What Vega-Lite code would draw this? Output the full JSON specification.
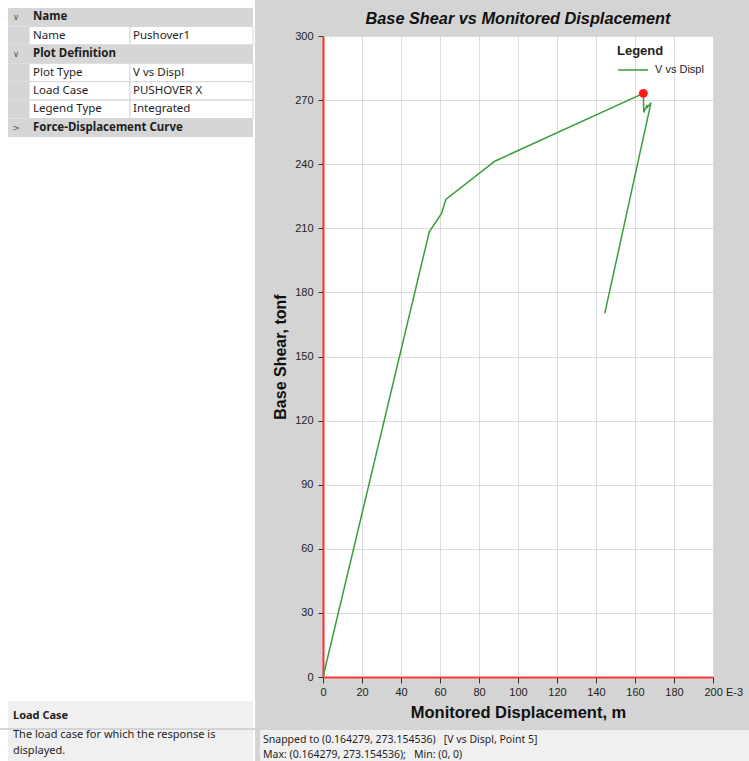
{
  "$schema": "https://vega.github.io/schema/vega-lite/v6.json",
  "background": "#d4d4d4",
  "padding": 0,
  "spacing": 0,
  "bounds": "full",
  "resolve": {"scale": {"color": "independent"}, "legend": {"color": "independent"}},
  "config": {"view": {"stroke": null}, "font": "Liberation Sans"},
  "datasets": {
    "grid": [
      {"row": 1, "kind": "header", "label": "Name", "open": true},
      {"row": 2, "kind": "item", "label": "Name", "value": "Pushover1"},
      {"row": 3, "kind": "header", "label": "Plot Definition", "open": true},
      {"row": 4, "kind": "item", "label": "Plot Type", "value": "V vs Displ"},
      {"row": 5, "kind": "item", "label": "Load Case", "value": "PUSHOVER X"},
      {"row": 6, "kind": "item", "label": "Legend Type", "value": "Integrated"},
      {"row": 7, "kind": "header", "label": "Force-Displacement Curve", "open": false}
    ],
    "desc": [
      {"line": 1, "text": "Load Case"},
      {"line": 2, "text": "The load case for which the response is"},
      {"line": 3, "text": "displayed."}
    ],
    "status": [
      {"line": 1, "text": "Snapped to (0.164279, 273.154536)\u00a0\u00a0\u00a0[V vs Displ, Point 5]"},
      {"line": 2, "text": "Max: (0.164279, 273.154536);\u00a0\u00a0\u00a0Min: (0, 0)"}
    ],
    "pushover": [
      {"step": 0, "series": "V vs Displ", "displ": 0, "shear": 0},
      {"step": 1, "series": "V vs Displ", "displ": 54.5, "shear": 208.4},
      {"step": 2, "series": "V vs Displ", "displ": 60.8, "shear": 217.0},
      {"step": 3, "series": "V vs Displ", "displ": 63.0, "shear": 223.5},
      {"step": 4, "series": "V vs Displ", "displ": 88.1, "shear": 241.4},
      {"step": 5, "series": "V vs Displ", "displ": 164.279, "shear": 273.154536},
      {"step": 6, "series": "V vs Displ", "displ": 164.5, "shear": 264.2},
      {"step": 7, "series": "V vs Displ", "displ": 166.2, "shear": 267.7},
      {"step": 8, "series": "V vs Displ", "displ": 166.3, "shear": 266.6},
      {"step": 9, "series": "V vs Displ", "displ": 168.2, "shear": 268.8},
      {"step": 10, "series": "V vs Displ", "displ": 144.5, "shear": 170.2}
    ]
  },
  "vconcat": [
    {
      "spacing": 68,
      "bounds": "flush",
      "resolve": {"scale": {"color": "independent"}, "legend": {"color": "independent"}},
      "hconcat": [
        {
          "width": 255,
          "height": 728,
          "view": {"fill": "white", "stroke": null},
          "resolve": {"scale": {"y": "independent"}},
          "layer": [
            {
              "data": {"name": "grid"},
              "encoding": {
                "y": {"field": "row", "type": "ordinal", "axis": null,
                  "scale": {"type": "band", "domain": [1, 2, 3, 4, 5, 6, 7], "range": [8, 137], "paddingInner": 0, "paddingOuter": 0}}
              },
              "layer": [
                {
                  "mark": {"type": "rect", "color": "#d6d6d6"},
                  "encoding": {
                    "x": {"datum": -1, "type": "quantitative", "axis": null, "scale": {"domain": [-1, 0, 1, 2], "range": [8, 29, 130, 253], "nice": false, "zero": false}},
                    "x2": {"datum": 2}
                  }
                },
                {
                  "transform": [{"filter": "datum.kind == 'item'"}],
                  "mark": {"type": "rect", "fill": "white", "stroke": "#d6d6d6", "strokeWidth": 1},
                  "encoding": {"x": {"datum": 0, "type": "quantitative"}, "x2": {"datum": 1}}
                },
                {
                  "transform": [{"filter": "datum.kind == 'item'"}],
                  "mark": {"type": "rect", "fill": "white", "stroke": "#d6d6d6", "strokeWidth": 1},
                  "encoding": {"x": {"datum": 1, "type": "quantitative"}, "x2": {"datum": 2}}
                },
                {
                  "transform": [{"filter": "datum.kind == 'item'"}],
                  "mark": {"type": "text", "align": "left", "dx": 4, "font": "Noto Sans", "fontSize": 11.5, "color": "#1e1e1e"},
                  "encoding": {"x": {"datum": 0, "type": "quantitative"}, "text": {"field": "label"}}
                },
                {
                  "transform": [{"filter": "datum.kind == 'item'"}],
                  "mark": {"type": "text", "align": "left", "dx": 3, "font": "Noto Sans", "fontSize": 11.5, "color": "#1e1e1e"},
                  "encoding": {"x": {"datum": 1, "type": "quantitative"}, "text": {"field": "value"}}
                },
                {
                  "transform": [{"filter": "datum.kind == 'header'"}],
                  "mark": {"type": "text", "align": "left", "dx": 4, "font": "Noto Sans", "fontSize": 11.5, "fontWeight": "bold", "color": "#1e1e1e"},
                  "encoding": {"x": {"datum": 0, "type": "quantitative"}, "text": {"field": "label"}}
                },
                {
                  "transform": [{"filter": "datum.kind == 'header'"}],
                  "mark": {"type": "text", "align": "center", "dx": 8, "font": "DejaVu Sans", "fontSize": 9, "color": "#555555"},
                  "encoding": {
                    "x": {"datum": -1, "type": "quantitative"},
                    "text": {"condition": {"test": "datum.open", "value": "∨"}, "value": ">"}
                  }
                }
              ]
            },
            {
              "data": {"name": "desc"},
              "transform": [{"filter": "datum.line == 1"}],
              "encoding": {
                "y": {"field": "line", "type": "ordinal", "axis": null,
                  "scale": {"type": "band", "domain": [1], "range": [701, 728], "paddingInner": 0, "paddingOuter": 0}}
              },
              "layer": [
                {
                  "mark": {"type": "rect", "color": "#f0f0f0"},
                  "encoding": {
                    "x": {"datum": -1, "type": "quantitative", "axis": null, "scale": {"domain": [-1, 0, 1, 2], "range": [8, 29, 130, 253], "nice": false, "zero": false}},
                    "x2": {"datum": 2}
                  }
                },
                {
                  "mark": {"type": "text", "align": "left", "dx": 5, "dy": 1, "font": "Noto Sans", "fontSize": 11, "fontWeight": "bold", "color": "#1e1e1e"},
                  "encoding": {"x": {"datum": -1, "type": "quantitative"}, "text": {"field": "text"}}
                }
              ]
            }
          ]
        },
        {
          "spacing": 0,
          "bounds": "flush",
          "resolve": {"scale": {"color": "independent"}, "legend": {"color": "independent"}},
          "vconcat": [
            {
              "width": 390,
              "height": 36,
              "data": {"values": [{"title": "Base Shear vs Monitored Displacement"}]},
              "mark": {"type": "text", "font": "Liberation Sans", "fontSize": 16.3, "fontWeight": "bold", "fontStyle": "italic", "color": "#111111", "dy": 1},
              "encoding": {"text": {"field": "title"}}
            },
            {
              "width": 390,
              "height": 641,
              "view": {"fill": "white", "stroke": null},
              "data": {"name": "pushover"},
              "encoding": {
                "x": {
                  "field": "displ", "type": "quantitative",
                  "scale": {"domain": [0, 200], "nice": false},
                  "axis": {
                    "values": [0, 20, 40, 60, 80, 100, 120, 140, 160, 180, 200],
                    "grid": true,
                    "gridColor": {"condition": {"test": "datum.value == 0", "value": "#ff3030"}, "value": "#dcdcdc"},
                    "gridWidth": {"condition": {"test": "datum.value == 0", "value": 1.6}, "value": 1},
                    "domainColor": "#ff3030", "domainWidth": 1.6,
                    "tickColor": "#333333", "tickSize": 6,
                    "labelFontSize": 11, "labelColor": "#222222", "labelPadding": 3,
                    "labelFlush": false, "labelOverlap": false,
                    "labelExpr": "datum.value == 200 ? '200 E-3' : datum.label",
                    "labelAlign": {"condition": {"test": "datum.value == 200", "value": "left"}, "value": "center"},
                    "labelOffset": {"condition": {"test": "datum.value == 200", "value": -9}, "value": 0},
                    "title": "Monitored Displacement, m",
                    "titleFontSize": 16.5, "titleFontWeight": "bold", "titleColor": "#111111", "titlePadding": 7
                  }
                },
                "y": {
                  "field": "shear", "type": "quantitative",
                  "scale": {"domain": [0, 300], "nice": false},
                  "axis": {
                    "values": [0, 30, 60, 90, 120, 150, 180, 210, 240, 270, 300],
                    "grid": true,
                    "gridColor": {"condition": {"test": "datum.value == 0", "value": "#ff3030"}, "value": "#dcdcdc"},
                    "gridWidth": {"condition": {"test": "datum.value == 0", "value": 1.6}, "value": 1},
                    "domainColor": "#ff3030", "domainWidth": 1.6,
                    "tickColor": "#333333", "tickSize": 5,
                    "labelFontSize": 11, "labelColor": "#222222", "labelPadding": 5,
                    "labelFlush": false,
                    "title": "Base Shear, tonf",
                    "titleFontSize": 16, "titleFontWeight": "bold", "titleColor": "#111111", "titlePadding": 6
                  }
                }
              },
              "layer": [
                {
                  "mark": {"type": "line", "strokeWidth": 1.5},
                  "encoding": {
                    "order": {"field": "step", "type": "quantitative"},
                    "color": {
                      "field": "series", "type": "nominal",
                      "scale": {"range": ["#3a9d3a"]},
                      "legend": {
                        "title": "Legend", "orient": "top-right", "offset": 9, "padding": 0,
                        "titleFontSize": 13, "titleFontWeight": "bold", "titleColor": "#222222", "titlePadding": -4,
                        "labelFontSize": 11, "labelColor": "#222222", "labelOffset": 6,
                        "symbolType": "stroke", "symbolSize": 900, "symbolStrokeWidth": 1.5
                      }
                    }
                  }
                },
                {
                  "transform": [{"filter": "datum.step == 5"}],
                  "mark": {"type": "point", "filled": true, "color": "#ff1a1a", "size": 80, "opacity": 1}
                }
              ]
            }
          ]
        }
      ]
    },
    {
      "spacing": 5,
      "bounds": "flush",
      "hconcat": [
        {
          "width": 255,
          "height": 33,
          "view": {"fill": "white", "stroke": null},
          "data": {"name": "desc"},
          "transform": [{"filter": "datum.line > 1"}],
          "encoding": {
            "y": {"field": "line", "type": "ordinal", "axis": null,
              "scale": {"type": "band", "domain": [2, 3], "range": [0, 33], "paddingInner": 0, "paddingOuter": 0}}
          },
          "layer": [
            {
              "mark": {"type": "rect", "color": "#f0f0f0"},
              "encoding": {
                "x": {"datum": -1, "type": "quantitative", "axis": null, "scale": {"domain": [-1, 0, 1, 2], "range": [8, 29, 130, 253], "nice": false, "zero": false}},
                "x2": {"datum": 2}
              }
            },
            {
              "mark": {"type": "text", "align": "left", "dx": 5, "dy": -3.5, "font": "Noto Sans", "fontSize": 11, "color": "#1e1e1e"},
              "encoding": {"x": {"datum": -1, "type": "quantitative"}, "text": {"field": "text"}}
            }
          ]
        },
        {
          "width": 489,
          "height": 33,
          "view": {"fill": "#f0f0f0", "stroke": null},
          "data": {"name": "status"},
          "mark": {"type": "text", "align": "left", "dx": 3, "dy": 2, "font": "Noto Sans", "fontSize": 10.5, "color": "#1e1e1e"},
          "encoding": {
            "y": {"field": "line", "type": "ordinal", "axis": null,
              "scale": {"type": "band", "domain": [1, 2], "range": [0, 31], "paddingInner": 0, "paddingOuter": 0}},
            "x": {"datum": 0, "type": "quantitative", "axis": null, "scale": {"domain": [0, 1]}},
            "text": {"field": "text"}
          }
        }
      ]
    }
  ]
}
